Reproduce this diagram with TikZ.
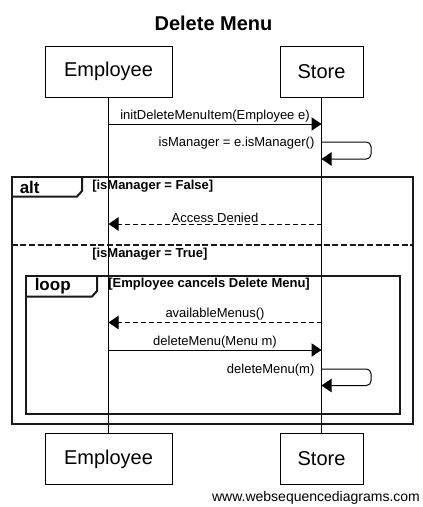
\documentclass[tikz,border=0pt]{standalone}
\usepackage{fontspec}
\setmainfont{Liberation Sans}
\usetikzlibrary{arrows.meta}

\begin{document}
\begin{tikzpicture}[x=0.75pt,y=-0.75pt,
  actor/.style={draw,line width=0.75pt,minimum width=#1,minimum height=38.25pt,inner sep=0pt,font=\fontsize{15}{18}\selectfont},
  msg/.style={font=\fontsize{9.75}{11}\selectfont,inner sep=1pt},
  guard/.style={font=\bfseries\fontsize{9.75}{11}\selectfont,anchor=west,inner sep=0pt},
  call/.style={line width=0.75pt,-{Triangle[length=7.5pt,width=10pt]}},
  reply/.style={call,dash pattern=on 3.75pt off 2.25pt},
  frame/.style={line width=1.5pt,draw=black!90},
  tab/.style={font=\bfseries\fontsize{12.75}{14}\selectfont,anchor=west,inner sep=0pt}]
  \useasboundingbox (0,0) rectangle (423,507);
  \node[font=\bfseries\fontsize{15}{18}\selectfont] (title) at (213.5,23) {Delete Menu};
  % participants
  \node[actor=95.25pt] (emp) at (108.5,71.5) {Employee};
  \node[actor=62.25pt] (store) at (321.5,71.5) {Store};
  \node[actor=95.25pt] (empb) at (108.5,459) {Employee};
  \node[actor=62.25pt] (storeb) at (321.5,459) {Store};
  \draw[line width=0.75pt] (emp) -- (empb);
  \draw[line width=0.75pt] (store) -- (storeb);
  % messages
  \draw[call] (emp |- 0,124) -- node[msg,above] (m1) {initDeleteMenuItem(Employee e)} (store |- 0,124);
  \draw[call,rounded corners=3.5pt] (store |- 0,142) -- (371,142) -- (371,159) -- (store |- 0,159);
  \node[msg,anchor=east] (m2) at (316,143) {isManager = e.isManager()};
  % alt frame
  \draw[frame] (11.5,176.5) rectangle (412.5,423.5);
  \draw[frame] (11.5,196.5) -- (77,196.5) -- (82,191) -- (82,176.5);
  \node[tab] (alt) at (19.5,187) {alt};
  \node[guard] (g1) at (92,186) {[isManager = False]};
  \draw[reply] (store |- 0,224) -- node[msg,above] (m3) {Access Denied} (emp |- 0,224);
  \draw[frame,dash pattern=on 4.5pt off 2pt] (11.5,244.5) -- (412.5,244.5);
  \node[guard] (g2) at (92,254) {[isManager = True]};
  % loop frame
  \draw[frame] (25.5,275.5) rectangle (399.5,414);
  \draw[frame] (25.5,296.5) -- (92,296.5) -- (97,291) -- (97,275.5);
  \node[tab] (loop) at (34.5,286.5) {loop};
  \node[guard] (g3) at (108,284.5) {[Employee cancels Delete Menu]};
  \draw[reply] (store |- 0,322.5) -- node[msg,above] (m4) {availableMenus()} (emp |- 0,322.5);
  \draw[call] (emp |- 0,350) -- node[msg,above] (m5) {deleteMenu(Menu m)} (store |- 0,350);
  \draw[call,rounded corners=3.5pt] (store |- 0,369) -- (371,369) -- (371,385.5) -- (store |- 0,385.5);
  \node[msg,anchor=east] (m6) at (316,370) {deleteMenu(m)};
  \node[font=\fontsize{10.5}{12}\selectfont] (wsd) at (316,498) {www.websequencediagrams.com};
\end{tikzpicture}
\end{document}
